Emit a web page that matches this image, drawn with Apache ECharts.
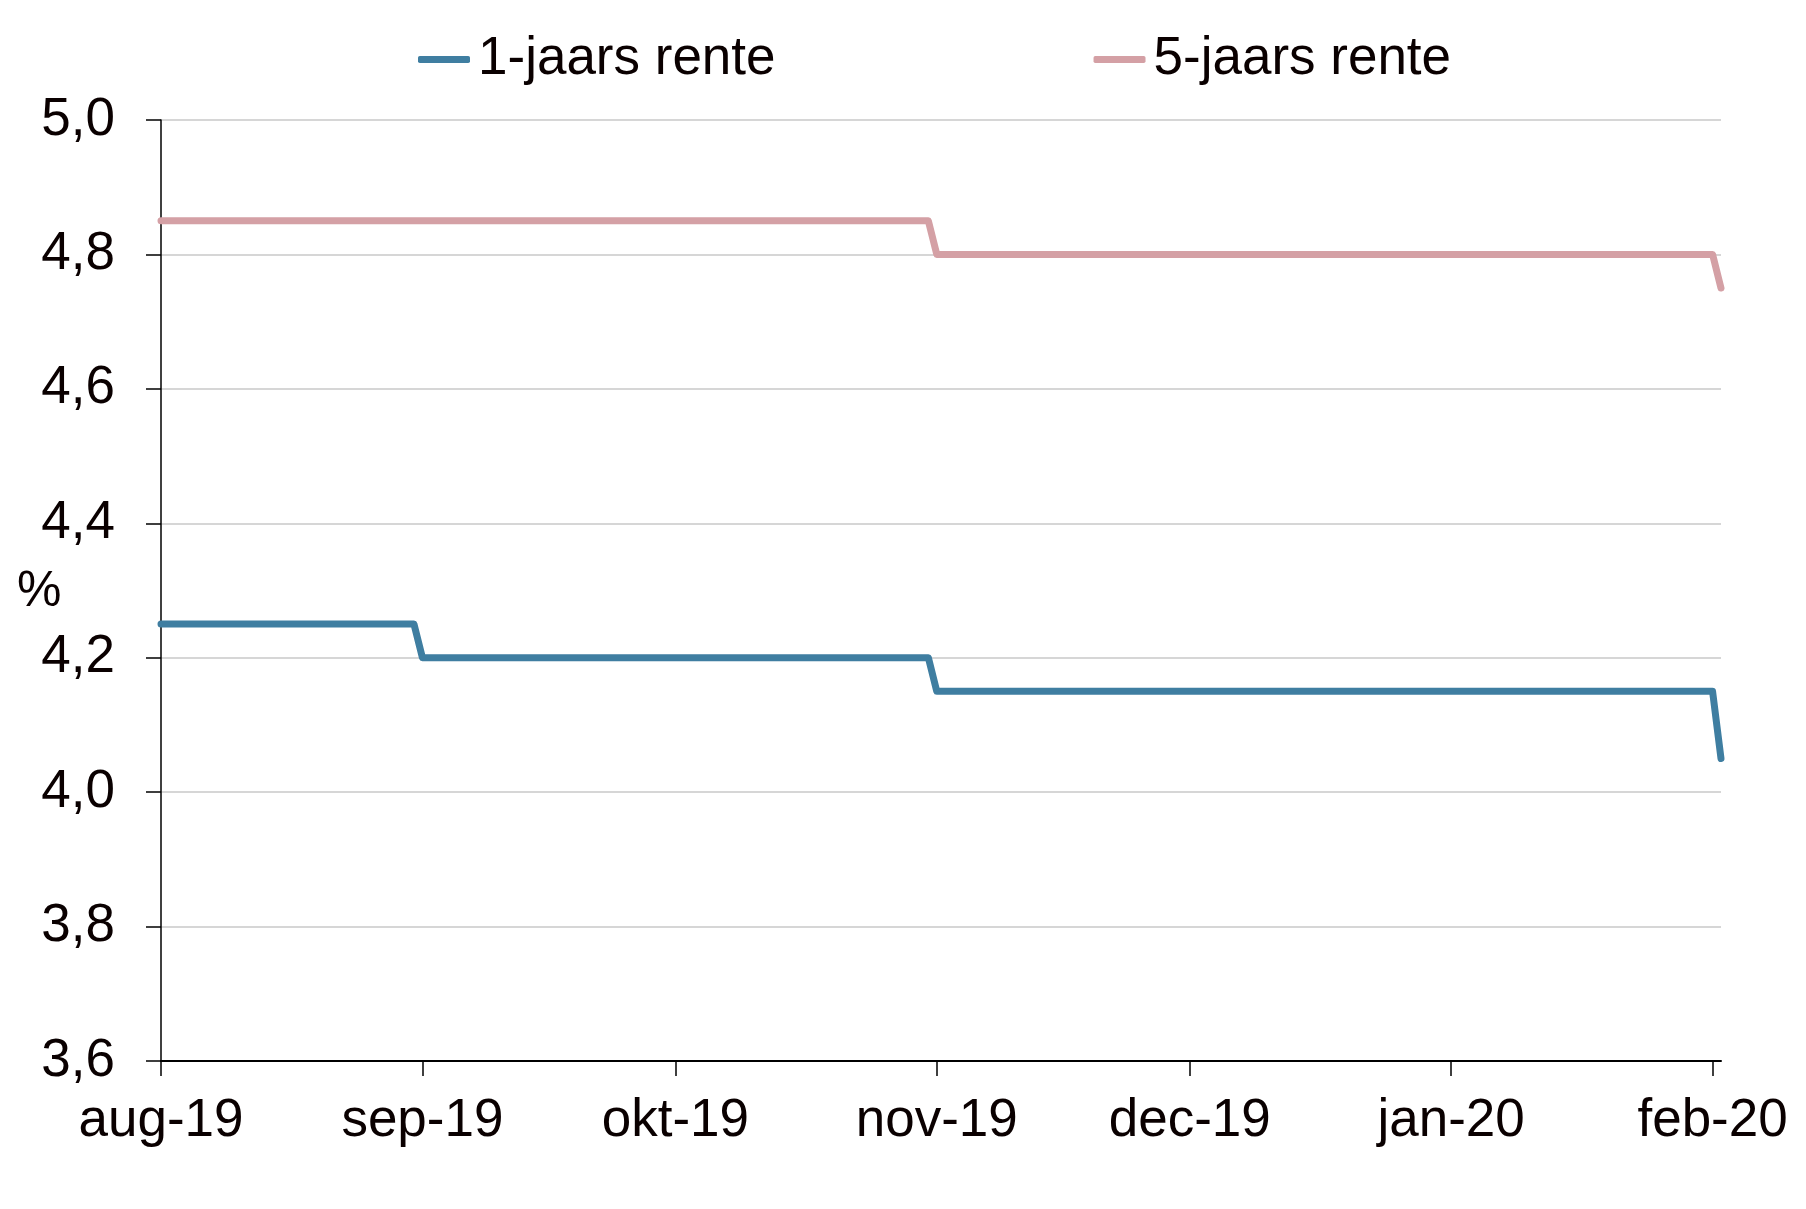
<!DOCTYPE html>
<html>
<head>
<meta charset="utf-8">
<script src="https://cdn.jsdelivr.net/npm/echarts@6/dist/echarts.min.js"></script>
<style>html,body{margin:0;padding:0;background:#fff;}#c{width:1806px;height:1209px;}</style>
</head>
<body>
<div id="c"></div>
<script>
// ---- data ----
const seriesNames = ['1-jaars rente', '5-jaars rente'];
const dates1 = ['2019-08-01', '2019-08-31', '2019-09-01', '2019-10-31', '2019-11-01', '2020-02-01', '2020-02-02'];
const values1 = [4.25, 4.25, 4.20, 4.20, 4.15, 4.15, 4.05];
const dates5 = ['2019-08-01', '2019-10-31', '2019-11-01', '2020-02-01', '2020-02-02'];
const values5 = [4.85, 4.85, 4.80, 4.80, 4.75];
const tickDates = ['2019-08-01', '2019-09-01', '2019-10-01', '2019-11-01', '2019-12-01', '2020-01-01', '2020-02-01'];
const tickLabels = ['aug-19', 'sep-19', 'okt-19', 'nov-19', 'dec-19', 'jan-20', 'feb-20'];

function ts(s) { return Date.UTC(+s.slice(0, 4), +s.slice(5, 7) - 1, +s.slice(8, 10)); }
const tickTs = tickDates.map(ts);
const labelMap = {};
tickTs.forEach((t, i) => { labelMap[t] = tickLabels[i]; });

const font = 'Liberation Sans, Arial, sans-serif';
const txt = '#0a0000';
const fs = 53;

const chart = echarts.init(document.getElementById('c'), null, { renderer: 'canvas' });
chart.setOption({
  backgroundColor: '#ffffff',
  animation: false,
  textStyle: { fontFamily: font, color: txt },
  legend: {
    top: 28,
    left: 413,
    itemGap: 318,
    itemWidth: 52,
    itemHeight: 7,
    icon: 'roundRect',
    textStyle: { fontSize: fs, color: txt, fontFamily: font, padding: [0, 0, 0, 3] },
    data: seriesNames
  },
  grid: { left: 161, right: 85, top: 120, bottom: 148, containLabel: false },
  xAxis: {
    type: 'value',
    min: ts('2019-08-01'),
    max: ts('2020-02-02'),
    axisLine: { show: true, lineStyle: { color: '#000', width: 2 } },
    axisTick: { show: true, length: 15, lineStyle: { color: '#000', width: 1.5 }, customValues: tickTs },
    axisLabel: {
      customValues: tickTs,
      fontSize: fs, color: txt, fontFamily: font, margin: 34,
      formatter: function (v) { return labelMap[v] || ''; }
    },
    splitLine: { show: false }
  },
  yAxis: {
    type: 'value',
    min: 3.6, max: 5.0, interval: 0.2,
    axisLine: { show: true, lineStyle: { color: '#000', width: 1.5 } },
    axisTick: { show: true, length: 15, lineStyle: { color: '#000', width: 1.5 } },
    axisLabel: {
      fontSize: fs, color: txt, fontFamily: font, margin: 46,
      formatter: function (v) { return v.toFixed(1).replace('.', ','); }
    },
    splitLine: { show: true, lineStyle: { color: '#c8c8c8', width: 1.5 } }
  },
  graphic: [{
    type: 'text', left: 17, top: 567,
    style: { text: '%', fontSize: 50, fill: txt, fontFamily: font }
  }],
  series: [
    {
      name: seriesNames[0], type: 'line', showSymbol: false, symbol: 'none',
      color: '#3f7ea1',
      lineStyle: { width: 7, color: '#3f7ea1', cap: 'round', join: 'round' },
      data: dates1.map((d, i) => [ts(d), values1[i]])
    },
    {
      name: seriesNames[1], type: 'line', showSymbol: false, symbol: 'none',
      color: '#d4a0a5',
      lineStyle: { width: 7, color: '#d4a0a5', cap: 'round', join: 'round' },
      data: dates5.map((d, i) => [ts(d), values5[i]])
    }
  ]
});
</script>
</body>
</html>
